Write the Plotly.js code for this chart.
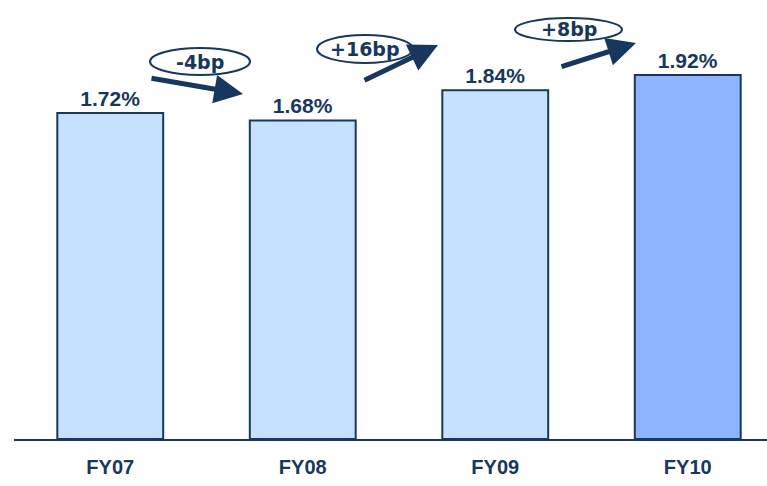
<!DOCTYPE html>
<html><head><meta charset="utf-8">
<script src="https://cdn.plot.ly/plotly-3.0.1.min.js"></script>
<style>html,body{margin:0;padding:0;background:#fff}#c{width:767px;height:486px}</style>
</head><body><div id="c"></div>
<script>
const categories = ["FY07", "FY08", "FY09", "FY10"];
const values = [1.72, 1.68, 1.84, 1.92];
const valueLabels = ["1.72%", "1.68%", "1.84%", "1.92%"];
const changeLabels = ["-4bp", "+16bp", "+8bp"];

const navy = "#17375E";
const W = 767, H = 486, L = 14, T = 0, B = 47;
const pw = W - L, ph = H - T - B;
const px = x => (x - L) / pw;
const py = y => (H - B - y) / ph;

// ellipse boxes [x0,y0,x1,y1] in pixels, arrows [startx,starty,tipx,tipy]
const ellipses = [[150,48,250,75],[317,35,413,63],[515,18,622,41]];
const arrows = [[150,78,243,94],[363,81,438,45],[560,67,636,43]];

const shapes = ellipses.map(e => ({type:"circle", xref:"paper", yref:"paper",
  x0:px(e[0]), x1:px(e[2]), y0:py(e[3]), y1:py(e[1]),
  line:{color:navy, width:2}, fillcolor:"rgba(255,255,255,0)"}));

const annotations = [];
ellipses.forEach((e,i) => annotations.push({xref:"paper", yref:"paper",
  x:px((e[0]+e[2])/2), y:py((e[1]+e[3])/2), text:"<b>"+changeLabels[i]+"</b>",
  showarrow:false, xanchor:"center", yanchor:"middle",
  font:{family:"DejaVu Sans, Verdana, sans-serif", size:19, color:navy}}));
arrows.forEach(a => annotations.push({xref:"paper", yref:"paper",
  x:px(a[2]), y:py(a[3]), ax:a[0]-a[2], ay:a[1]-a[3], axref:"pixel", ayref:"pixel",
  text:"", showarrow:true, arrowhead:2, arrowsize:1.15, arrowwidth:5, arrowcolor:navy,
  standoff:0, startstandoff:0}));

Plotly.newPlot("c", [{
  type:"bar", x:categories, y:values, text:valueLabels, textposition:"outside",
  texttemplate:"<b>%{text}</b>", cliponaxis:false,
  textfont:{family:"Liberation Sans, Arial, sans-serif", size:21, color:navy},
  marker:{color:["#C6E1FD","#C6E1FD","#C6E1FD","#8DB4FE"], line:{color:navy, width:2}},
  hoverinfo:"none"
}], {
  width:W, height:H, margin:{l:L, r:0, t:T, b:B},
  paper_bgcolor:"#fff", plot_bgcolor:"#fff", bargap:0.45, showlegend:false,
  xaxis:{range:[-0.5, -0.5 + pw/192.5], showline:true, linecolor:navy, linewidth:2,
    showgrid:false, zeroline:false, ticks:"", ticklabelstandoff:9,
    tickfont:{family:"Liberation Sans, Arial, sans-serif", size:20, color:navy},
    tickvals:categories, ticktext:categories.map(c=>"<b>"+c+"</b>")},
  yaxis:{range:[0, ph/189.6], visible:false, showgrid:false, zeroline:false},
  shapes:shapes, annotations:annotations
}, {displayModeBar:false, staticPlot:true});
</script></body></html>
